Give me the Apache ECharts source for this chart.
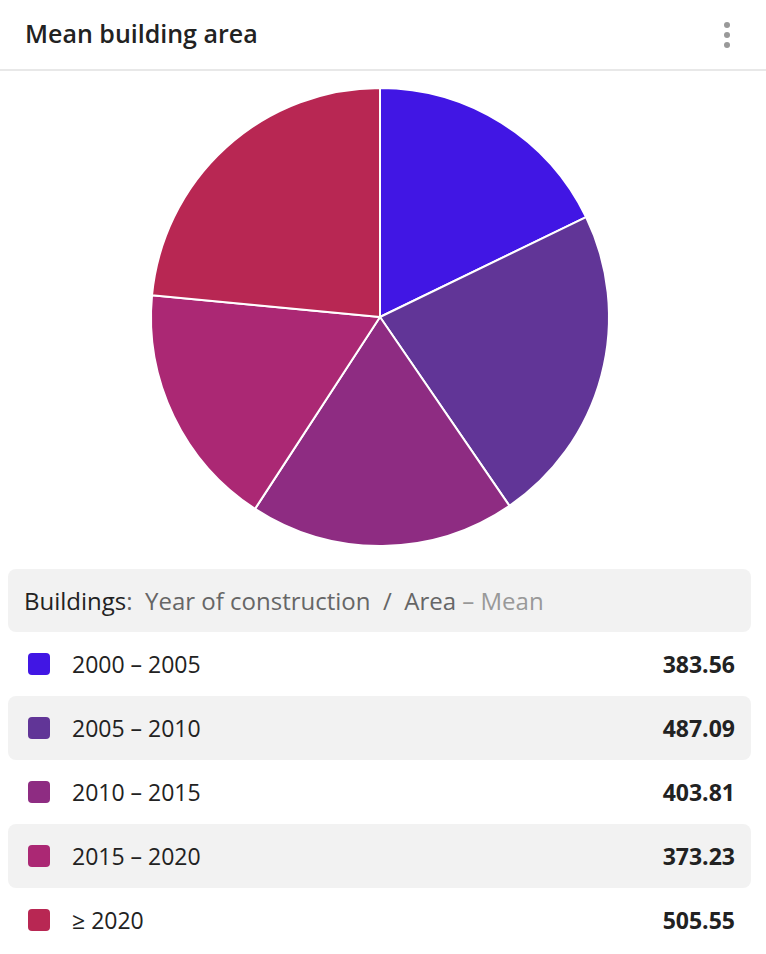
<!DOCTYPE html>
<html>
<head>
<meta charset="utf-8">
<script src="https://cdn.jsdelivr.net/npm/echarts@6/dist/echarts.min.js"></script>
<style>
  body { margin: 0; width: 766px; height: 954px; background: #fff; font-family: "Open Sans", sans-serif; color: #222; overflow: hidden; }
  .head { height: 69px; border-bottom: 2px solid #e8e8e8; position: relative; }
  .head h1 { margin: 0; position: absolute; left: 25px; top: 16px; font-size: 25px; font-weight: 600; color: #222; }
  .dots { position: absolute; right: 36px; top: 22px; width: 6px; }
  .dots i { display: block; width: 6px; height: 6px; border-radius: 3px; background: #999; margin-bottom: 4px; }
  #chart { width: 766px; height: 490px; }
  .tbl { position: absolute; left: 8px; top: 569px; width: 743px; }
  .th { height: 63px; background: #f2f2f2; border-radius: 8px; font-size: 24px; line-height: 63px; padding-left: 16px; color: #222; }
  .th .g { color: #666; } .th .l { color: #999; }
  .row { height: 64px; line-height: 64px; font-size: 23px; position: relative; border-radius: 8px; }
  .row.alt { background: #f2f2f2; }
  .sw { position: absolute; left: 20px; top: 21px; width: 22px; height: 22px; border-radius: 4px; }
  .nm { position: absolute; left: 64px; color: #222; }
  .val { position: absolute; right: 16px; font-weight: 700; color: #222; }
</style>
</head>
<body>
<div class="head"><h1>Mean building area</h1><div class="dots"><i></i><i></i><i></i></div></div>
<div id="chart"></div>
<div class="tbl" id="tbl"></div>
<script>
var categories = ['2000 – 2005', '2005 – 2010', '2010 – 2015', '2015 – 2020', '≥ 2020'];
var values = [383.56, 487.09, 403.81, 373.23, 505.55];
var colors = ['#4116e4', '#613597', '#8e2c82', '#ab2874', '#b82753'];

var chart = echarts.init(document.getElementById('chart'));
chart.setOption({
  animation: false,
  series: [{
    type: 'pie',
    center: [380, 246],
    radius: 229,
    startAngle: 90,
    clockwise: true,
    label: { show: false },
    itemStyle: { borderColor: '#fff', borderWidth: 2 },
    data: categories.map(function (c, i) {
      return { name: c, value: values[i], itemStyle: { color: colors[i] } };
    })
  }]
});

var html = '<div class="th">Buildings<span class="g">:&nbsp; Year of construction &nbsp;/&nbsp; Area</span><span class="l"> – Mean</span></div>';
categories.forEach(function (c, i) {
  html += '<div class="row' + (i % 2 ? ' alt' : '') + '"><span class="sw" style="background:' + colors[i] +
    '"></span><span class="nm">' + c + '</span><span class="val">' + values[i].toFixed(2) + '</span></div>';
});
document.getElementById('tbl').innerHTML = html;
</script>
</body>
</html>
